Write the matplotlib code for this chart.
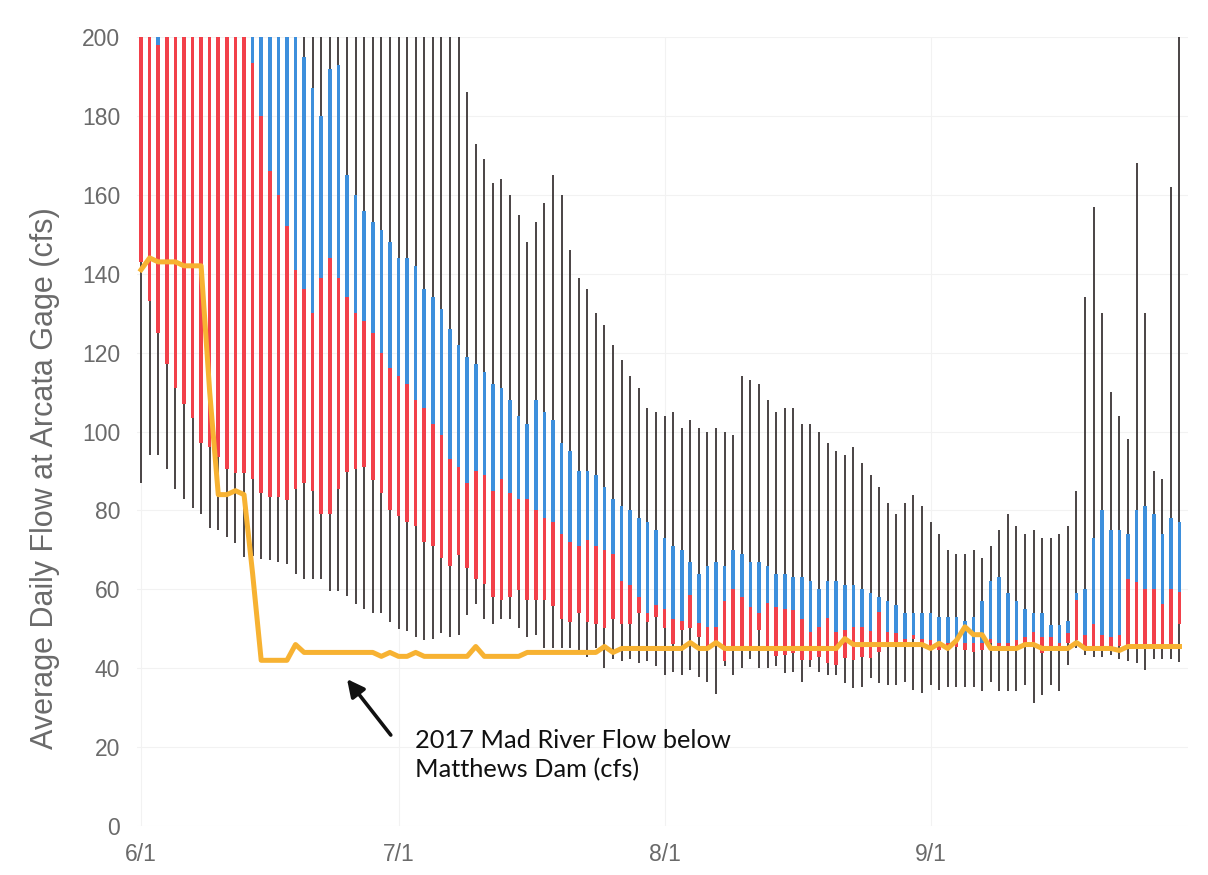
import numpy as np
import matplotlib
matplotlib.use("Agg")
import matplotlib.pyplot as plt

# day index 0 = 6/1 ... 121 = 9/30
tick_days = [0, 30, 61, 92]
tick_labels = ["6/1", "7/1", "8/1", "9/1"]

# daily maximum (values above 200 run off the chart)
flow_max = [
    210, 210, 210, 210, 210, 210, 210, 210, 210, 210,
    210, 210, 210, 210, 210, 210, 210, 210, 210, 210,
    210, 210, 210, 210, 210, 210, 210, 210, 210, 210,
    210, 210, 210, 210, 210, 210, 210, 210, 186, 173,
    169, 163, 164, 160, 155, 148, 153, 158, 165, 160,
    146, 139, 136, 130, 127, 122, 118, 114, 111, 106,
    105, 104, 105, 101, 103, 101, 100, 101, 100, 99,
    114, 113, 112, 108, 105, 106, 106, 102, 102, 100,
    97, 95, 94, 96, 92, 89, 86, 82, 79, 82,
    84, 81, 77, 74, 70, 69, 69, 70, 68, 71,
    75, 79, 76, 74, 75, 73, 73, 74, 76, 85,
    134, 157, 130, 110, 104, 98, 168, 130, 90, 88,
    162, 200,
]

# upper quartile (top of blue)
flow_q75 = [
    230, 230, 230, 230, 230, 230, 230, 230, 230, 230,
    230, 230, 230, 230, 230, 230, 230, 230, 230, 195,
    187, 180, 192, 193, 165, 160, 156, 153, 151, 148,
    144, 144, 142, 136, 134, 131, 126, 122, 119, 117,
    115, 112, 111, 108, 104, 102, 108, 105, 103, 97,
    95, 90, 90, 89, 86, 83, 81, 80, 78, 77,
    75, 73, 71, 70, 67, 64, 66, 67, 66, 70,
    69, 67, 67, 66, 64, 64, 63, 63, 62, 60,
    62, 62, 61, 61, 60, 59, 58, 57, 56, 54,
    54, 54, 54, 53, 53, 53, 52, 53, 57, 62,
    63, 59, 57, 55, 54, 54, 51, 51, 52, 59,
    60, 73, 80, 75, 75, 74, 80, 81, 79, 74,
    78, 77,
]

# median (red / blue boundary)
flow_med = [
    215, 215, 198, 215, 215, 215, 215, 215, 215, 215,
    215, 215, 215, 193.5, 180, 166, 160, 152, 141, 136,
    130, 139, 144, 139, 134, 130, 128, 125, 120, 116,
    114, 112, 108, 106, 102, 99, 93, 91, 87, 90,
    89, 85, 88, 84.5, 83, 83, 80, 78, 77, 74,
    72, 71, 72.5, 71, 70, 69, 62, 61, 58, 54,
    56, 55, 52.5, 52, 58.5, 51.5, 50.5, 50.5, 57, 60,
    58, 55.5, 54, 56.5, 55.5, 55, 54.7, 52.4, 49.3, 50.5,
    52.6, 49.3, 49.7, 50.5, 50.5, 49.5, 54.3, 49.3, 48.8, 47.5,
    48.4, 47.5, 47.1, 46.3, 46.3, 47.1, 46.3, 46.3, 46.3, 47.5,
    46.3, 46.3, 47.1, 48, 49.3, 48, 48, 46.3, 48.8, 57.3,
    48.5, 51.3, 48.5, 47.9, 48.5, 62.5, 61.9, 60.2, 60.2, 56.3,
    60.2, 59.4,
]

# lower quartile (bottom of red)
flow_q25 = [
    143, 133, 125, 117, 111, 107, 103.5, 97, 96, 93.5,
    90.5, 89.4, 89.4, 88, 84.3, 83.4, 83.4, 82.6, 85.5, 87,
    85, 79.2, 79.2, 85.5, 89.8, 90.6, 91.1, 87.7, 84.5, 80,
    78.5, 77, 76, 72, 71, 68, 66, 68.6, 65.3, 62.5,
    61.3, 58, 57.4, 58, 59.7, 57.4, 57.4, 57.4, 55.7, 52.5,
    51.8, 54, 51.8, 51.3, 50.2, 52.4, 51.3, 51.3, 54, 51.8,
    53, 50.2, 46.2, 49.6, 50.2, 47.9, 45.7, 45.7, 41.8, 45.7,
    45.7, 45.7, 49.6, 45.5, 43, 43.3, 43.8, 42.1, 42.1, 42.9,
    41.2, 40.8, 42.5, 42.1, 42.9, 42.5, 44.2, 46.7, 46.7, 46.7,
    47.5, 46.3, 45.4, 44.6, 44.6, 45.4, 44.6, 44.2, 44.6, 46.3,
    44.6, 44.6, 44.6, 45.4, 45.4, 43.8, 44.6, 44.6, 46.3, 47.1,
    45.1, 45.7, 45.1, 45.1, 45.7, 45.7, 45.7, 45.7, 45.1, 45.1,
    45.1, 51.3,
]

# daily minimum
flow_min = [
    87, 94, 94, 90.5, 85.5, 83, 80.5, 79, 75.5, 75,
    73.2, 71.7, 68.1, 68.5, 67.6, 67.4, 67, 66.5, 64, 62.6,
    62.6, 62.5, 59.6, 59.5, 58.3, 56.3, 55.1, 54.1, 54.1, 51.8,
    50, 49.5, 48, 47.2, 47.5, 49, 48, 48.5, 53.5, 56.3,
    52.4, 51.3, 52.4, 52.4, 50.2, 47.9, 48.5, 45.1, 45.1, 45.1,
    45.1, 44.5, 42.9, 45.1, 40.1, 42.3, 41.8, 42.3, 41.2, 41.8,
    40.6, 38.4, 39, 38.4, 39.5, 37.8, 36.4, 33.4, 40.6, 38.4,
    40.1, 42.3, 40.1, 40.1, 40.6, 38.7, 39.1, 36.5, 40.4, 39.1,
    38.3, 38.3, 36.2, 34.9, 35.3, 37.4, 36.2, 35.7, 35.7, 36.5,
    34.5, 33.6, 35.7, 34.5, 35.3, 35.3, 35.3, 35.3, 34.1, 36.5,
    34.1, 34.1, 34.1, 35.7, 31.1, 33.2, 35.7, 34.1, 40.8, 45,
    43.4, 42.9, 42.9, 43.4, 42.3, 41.8, 41.2, 39.5, 42.3, 42.3,
    42.3, 41.5,
]

# 2017 Mad River flow below Matthews Dam
flow_2017 = [
    141, 144, 143, 143, 143, 142, 142, 142, 110, 84,
    84, 85, 84, 64, 42, 42, 42, 42, 46, 44,
    44, 44, 44, 44, 44, 44, 44, 44, 43, 44,
    43, 43, 44, 43, 43, 43, 43, 43, 43, 45.5,
    43, 43, 43, 43, 43, 44, 44, 44, 44, 44,
    44, 44, 44, 44, 45.5, 44, 45, 45, 45, 45,
    45, 45, 45, 45, 46.5, 45, 45, 46.5, 45, 45,
    45, 45, 45, 45, 45, 45, 45, 45, 45, 45,
    45, 45, 47.5, 46, 46, 46, 46, 46, 46, 46,
    46, 46, 45, 46.3, 45, 47, 50.5, 48.5, 48.5, 45,
    45, 45, 45, 46, 46, 45, 45, 45, 45, 46.5,
    45, 45, 45, 45, 44.5, 45.5, 45.5, 45.5, 45.5, 45.5,
    45.5, 45.5,
]

days = np.arange(len(flow_max))
q25 = np.array(flow_q25)
med = np.array(flow_med)
q75 = np.array(flow_q75)

fig = plt.figure(figsize=(12.08, 8.75), dpi=100)
ax = fig.add_axes([0.1132, 0.056, 0.8703, 0.9017])

ax.vlines(days, flow_min, flow_max, color='#3b3536', lw=1.3, zorder=2)
ax.bar(days, med - q25, bottom=q25, width=0.42, color='#f2404a', zorder=3)
ax.bar(days, q75 - med, bottom=med, width=0.42, color='#3d8fdc', zorder=3)
ax.plot(days, flow_2017, color='#f7b232', lw=3.6, zorder=5, solid_joinstyle='round')

ax.set_xlim(-0.5, 122)
ax.set_ylim(0, 200)
ax.set_yticks(np.arange(0, 201, 20))
ax.set_xticks(tick_days)
ax.set_xticklabels(tick_labels)
ax.tick_params(length=0, labelsize=16.5, colors='#6a6a6a', pad=12)
for lab in ax.get_xticklabels() + ax.get_yticklabels():
    lab.set_family(['Liberation Sans Narrow', 'Liberation Sans'])
ax.set_ylabel("Average Daily Flow at Arcata Gage (cfs)", fontsize=22, color='#6a6a6a',
              family=['Liberation Sans Narrow', 'Liberation Sans'])
ax.yaxis.set_label_coords(-0.073, 0.441)
ax.grid(True, color='#f2f2f2', lw=0.8, zorder=0)
ax.set_axisbelow(True)
for s in ax.spines.values():
    s.set_visible(False)

ax.annotate("", xy=(23.8, 37.8), xytext=(29.3, 22.5),
            arrowprops=dict(arrowstyle='-|>', color='#111111', lw=2.6, mutation_scale=26),
            zorder=6)
ax.text(31.9, 24.6, "2017 Mad River Flow below\nMatthews Dam (cfs)", fontsize=18.3,
        family='Lato', color='#111111', va='top', ha='left', linespacing=1.3, zorder=6)

fig.savefig("out.png", dpi=100, facecolor='white')
